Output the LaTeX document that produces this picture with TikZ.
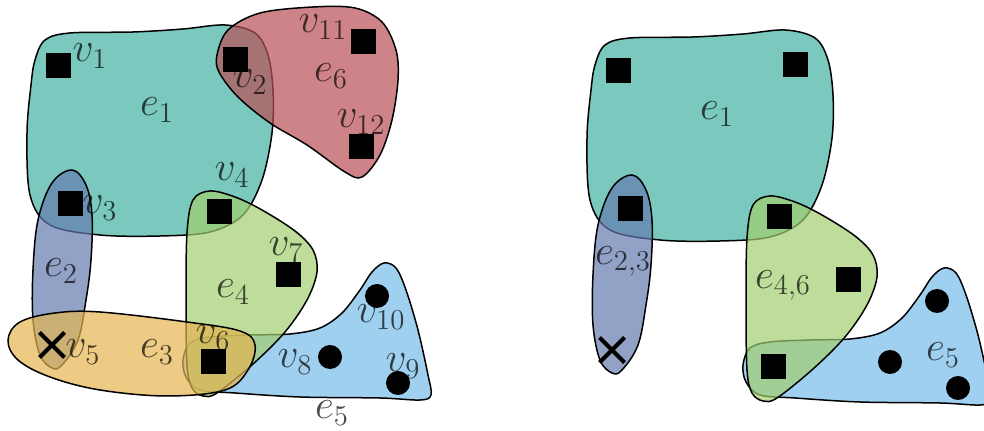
\documentclass[tikz,border=0pt]{standalone}
\usetikzlibrary{shapes.misc}
\definecolor{cEone}{RGB}{65,176,162}
\definecolor{cEsix}{RGB}{185,79,86}
\definecolor{cEtwo}{RGB}{99,123,174}
\definecolor{cEfour}{RGB}{162,206,111}
\definecolor{cEfive}{RGB}{119,188,234}
\definecolor{cEthree}{RGB}{229,181,81}
\def\pathEone{plot[smooth cycle, tension=0.55] coordinates {(35,60) (45,40) (70,33) (133,32) (183,29) (225,25) (255,33) (268,55) (273,90) (272,133) (262,180) (243,215) (210,232) (160,236) (100,235) (50,225) (30,195) (27,133) (31,85)}}
\def\pathEsix{plot[smooth cycle, tension=0.55] coordinates {(217,55) (228,30) (260,13) (313,7) (355,8) (382,22) (396,50) (398,80) (392,120) (380,155) (362,177) (345,172) (307,145) (270,123) (238,97) (219,72)}}
\def\pathEtwo{plot[smooth cycle, tension=0.6] coordinates {(72,170) (86,185) (92,215) (91,260) (86,300) (78,340) (62,365) (52,368) (40,355) (33,320) (33,270) (38,220) (52,183)}}
\def\pathEthree{plot[smooth cycle, tension=0.6] coordinates {(8,340) (20,322) (55,313) (100,312) (187,322) (240,331) (255,345) (248,370) (225,390) (167,396) (100,390) (50,377) (18,360)}}
\def\pathEfour{plot[smooth cycle, tension=0.55] coordinates {(210,191) (235,197) (262,210) (295,231) (313,250) (317,272) (307,300) (285,332) (253,364) (217,393) (203,396) (192,388) (187,365) (186,300) (187,233) (193,200)}}
\def\pathEfive{plot[smooth cycle, tension=0.55] coordinates {(183,360) (190,343) (210,337) (250,335) (290,334) (320,328) (342,313) (360,290) (372,272) (384,263) (396,268) (406,290) (418,330) (428,375) (431,395) (420,400) (380,398) (300,397) (235,393) (200,390) (186,377)}}
\tikzset{
  hedge/.style={draw=black, line width=0.75pt, fill opacity=0.7},
  vsq/.style={rectangle, fill=black, minimum size=12.5pt, inner sep=0pt},
  vdot/.style={circle, fill=black, minimum size=12pt, inner sep=0pt},
  vcross/.style={cross out, draw=black, line width=2pt, minimum size=10.5pt, inner sep=0pt},
  lbl/.style={text=black, text opacity=0.7, inner sep=0pt, font=\fontsize{19.5}{23}\selectfont}
}
\begin{document}
\begin{tikzpicture}[x=0.5pt, y=-0.5pt]
\useasboundingbox (0,0) rectangle (984,431);
\clip (0,0) rectangle (984,431);
% ---------- left diagram ----------
\draw[hedge, fill=cEone] \pathEone;
\draw[hedge, fill=cEsix] \pathEsix;
\draw[hedge, fill=cEtwo] \pathEtwo;
\draw[hedge, fill=cEfive] \pathEfive;
\draw[hedge, fill=cEfour] \pathEfour;
\draw[hedge, fill=cEthree] \pathEthree;
\node[lbl] (l1) at (90,56) {$v_1$};
\node[lbl] (l2) at (250,82) {$v_2$};
\node[lbl] (l11) at (323,27) {$v_{11}$};
\node[lbl] (le6) at (331,76) {$e_6$};
\node[lbl] (l12) at (361,122) {$v_{12}$};
\node[lbl] (le1) at (157,110) {$e_1$};
\node[lbl] (l4) at (232,175) {$v_4$};
\node[lbl] (l3) at (100,208) {$v_3$};
\node[lbl] (l7) at (286,250) {$v_7$};
\node[lbl] (le2) at (61,271) {$e_2$};
\node[lbl] (le4) at (233,292) {$e_4$};
\node[lbl] (l10) at (381,317) {$v_{10}$};
\node[lbl] (l6) at (213,338) {$v_6$};
\node[lbl] (l5) at (83,352) {$v_5$};
\node[lbl] (le3) at (157,352) {$e_3$};
\node[lbl] (l8) at (295,362) {$v_8$};
\node[lbl] (l9) at (403,366) {$v_9$};
\node[lbl] (le5) at (332,413) {$e_5$};
\node[vsq] (v1) at (58,66) {};
\node[vsq] (v2) at (235,60) {};
\node[vsq] (v11) at (363,42) {};
\node[vsq] (v12) at (361,147) {};
\node[vsq] (v3) at (70,204) {};
\node[vsq] (v4) at (219,212) {};
\node[vsq] (v7) at (288,275) {};
\node[vsq] (v6) at (213,362) {};
\node[vdot] (v10) at (377,296) {};
\node[vdot] (v8) at (330,357) {};
\node[vdot] (v9) at (398,383) {};
\node[vcross] (v5) at (52,345) {};
% ---------- right diagram ----------
\begin{scope}[shift={(560,5)}]
\draw[hedge, fill=cEone] \pathEone;
\draw[hedge, fill=cEtwo] \pathEtwo;
\draw[hedge, fill=cEfive] \pathEfive;
\draw[hedge, fill=cEfour] \pathEfour;
\node[lbl] (re1) at (157,109) {$e_1$};
\node[lbl] (re23) at (63,256) {$e_{2,3}$};
\node[lbl] (re46) at (223,280) {$e_{4,6}$};
\node[lbl] (re5) at (383,350) {$e_5$};
\node[vsq] (w1) at (58,66) {};
\node[vsq] (w2) at (235,60) {};
\node[vsq] (w3) at (70,204) {};
\node[vsq] (w4) at (219,212) {};
\node[vsq] (w7) at (288,275) {};
\node[vsq] (w6) at (213,362) {};
\node[vdot] (w10) at (377,296) {};
\node[vdot] (w8) at (330,357) {};
\node[vdot] (w9) at (398,383) {};
\node[vcross] (w5) at (52,345) {};
\end{scope}
\end{tikzpicture}
\end{document}
